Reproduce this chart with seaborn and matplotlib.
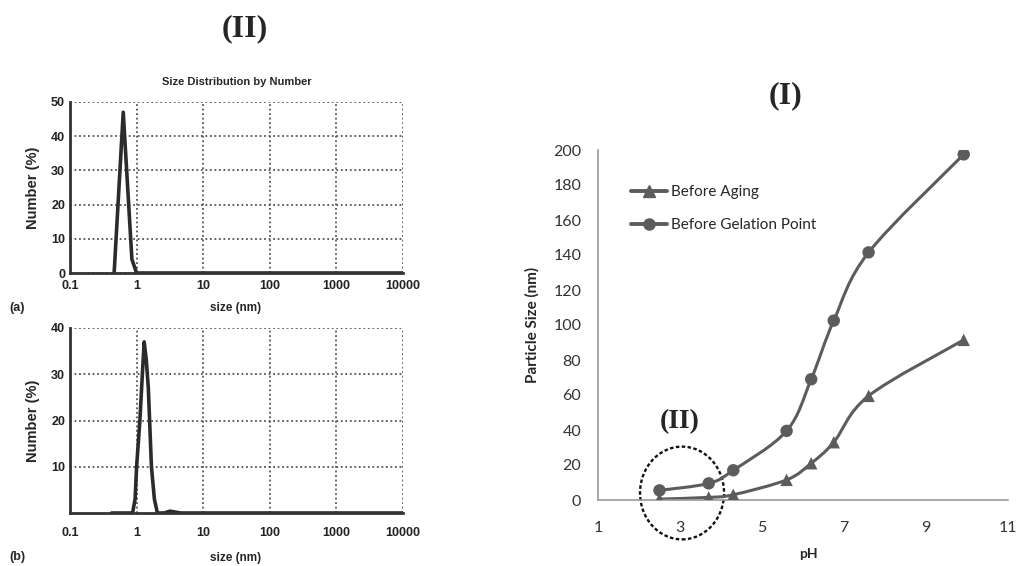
import numpy as np
import pandas as pd
import matplotlib
matplotlib.use('Agg')
import matplotlib.pyplot as plt
import seaborn as sns
from matplotlib.path import Path
from matplotlib.patches import PathPatch, Ellipse
from matplotlib.lines import Line2D
from matplotlib.ticker import FixedLocator, LogLocator, NullFormatter

# (a) size distribution by number
size_a = [0.46, 0.63, 0.85, 1.0, 10000]
number_a = [0, 47, 4, 0, 0]

# (b) size distribution by number
size_b = [0.42, 0.87, 0.95, 1.0, 1.12, 1.22, 1.3, 1.4, 1.5, 1.67, 1.85, 2.05, 2.6, 3.16, 3.8, 4.6, 10000]
number_b = [0, 0, 3, 10, 20, 30, 37, 33, 27, 10, 3, 0, 0, 0.4, 0.2, 0, 0]

# (I) particle size vs pH
ph = [2.5, 3.7, 4.3, 5.6, 6.2, 6.75, 7.6, 9.92]
size_aging = [0.5, 1.5, 3, 11.5, 21, 33, 59.5, 91.5]
size_gelation = [5.5, 9.5, 17, 39.5, 69, 102.5, 141.5, 197.5]

log_ticks = [0.1, 1, 10, 100, 1000, 10000]
log_labels = ['0.1', '1', '10', '100', '1000', '10000']

sns.set_style('white')
plt.rcParams['font.family'] = ['Liberation Sans', 'DejaVu Sans']

fig = plt.figure(figsize=(10.16, 5.66), dpi=100)
W, H = 1016, 566
serif = ['Liberation Serif', 'DejaVu Serif']
calib = ['Lato', 'DejaVu Sans']


def px_axes(left, top, right, bottom):
    return fig.add_axes([left / W, 1 - bottom / H, (right - left) / W, (bottom - top) / H])


def dls_panel(ax, x, y, ymax, ylabels, pad):
    sns.lineplot(x=x, y=y, ax=ax, sort=False, color='#2b2b2b', lw=2.6, estimator=None)
    ax.set_xscale('log')
    ax.set_xlim(0.1, 10000)
    ax.set_ylim(0, ymax)
    ax.xaxis.set_major_locator(FixedLocator(log_ticks))
    ax.set_xticklabels(log_labels)
    ax.xaxis.set_minor_locator(LogLocator(base=10, subs=np.arange(2, 10)))
    ax.xaxis.set_minor_formatter(NullFormatter())
    ax.set_yticks(ylabels)
    ax.yaxis.set_minor_locator(FixedLocator(np.arange(0, ymax + 1, 5)))
    ax.grid(True, which='major', color='#555555', ls=(0, (1, 1.5)), lw=1.3)
    for s in ['top', 'right']:
        ax.spines[s].set_visible(False)
    for s in ['left', 'bottom']:
        ax.spines[s].set_color('#333333')
        ax.spines[s].set_linewidth(2)
    ax.tick_params(axis='both', which='both', direction='in', color='#333333')
    ax.tick_params(axis='both', which='major', length=4, width=1.5, labelsize=9)
    ax.tick_params(axis='x', which='major', pad=pad)
    ax.tick_params(axis='both', which='minor', length=3, width=1.2)
    for t in ax.get_xticklabels() + ax.get_yticklabels():
        t.set_fontweight('bold')
        t.set_color('#222222')
    ax.set_ylabel('Number (%)', fontsize=10.5, fontweight='bold', labelpad=8)
    ax.set_xlabel('')


# top panel (a)
ax_a = px_axes(70, 102, 403, 273)
dls_panel(ax_a, size_a, number_a, 50, [0, 10, 20, 30, 40, 50], 5)
ax_a.set_title('Size Distribution by Number', fontsize=8, fontweight='bold', pad=12)

# bottom panel (b)
ax_b = px_axes(70, 328, 403, 513)
dls_panel(ax_b, size_b, number_b, 40, [10, 20, 30, 40], 10)

fig.text(236 / W, 1 - 308 / H, 'size (nm)', ha='center', va='center', fontsize=8.5, fontweight='bold')
fig.text(236 / W, 1 - 558 / H, 'size (nm)', ha='center', va='center', fontsize=8.5, fontweight='bold')
fig.text(17 / W, 1 - 308 / H, '(a)', ha='center', va='center', fontsize=9, fontweight='bold')
fig.text(17 / W, 1 - 557 / H, '(b)', ha='center', va='center', fontsize=9, fontweight='bold')
fig.text(245 / W, 1 - 29 / H, '(II)', ha='center', va='center', fontsize=23,
         fontweight='bold', family=serif)

# right panel (I)
ax_r = px_axes(598, 150, 1008, 500)
line_col = '#5c5c5c'


def smooth_path(x, y):
    n = len(x)
    verts = [(x[0], y[0])]
    codes = [Path.MOVETO]
    for i in range(n - 1):
        p0 = max(i - 1, 0)
        p3 = min(i + 2, n - 1)
        c1 = (x[i] + (x[i + 1] - x[p0]) / 6, y[i] + (y[i + 1] - y[p0]) / 6)
        c2 = (x[i + 1] - (x[p3] - x[i]) / 6, y[i + 1] - (y[p3] - y[i]) / 6)
        verts += [c1, c2, (x[i + 1], y[i + 1])]
        codes += [Path.CURVE4] * 3
    return Path(verts, codes)


df_r = pd.DataFrame({'pH': ph * 2,
                     'size': size_aging + size_gelation,
                     'series': ['Before Aging'] * len(ph) + ['Before Gelation Point'] * len(ph)})

for ys in [size_aging, size_gelation]:
    ax_r.add_patch(PathPatch(smooth_path(ph, ys), fill=False, color=line_col, lw=2.2, zorder=2))

sns.scatterplot(data=df_r, x='pH', y='size', style='series',
                markers={'Before Aging': '^', 'Before Gelation Point': 'o'},
                color=line_col, s=80, edgecolor=line_col, linewidth=0, ax=ax_r, legend=False, zorder=3)

ax_r.set_xlim(1, 11)
ax_r.set_ylim(0, 200)
ax_r.set_xticks([1, 3, 5, 7, 9, 11])
ax_r.set_yticks(range(0, 201, 20))
for s in ['top', 'right']:
    ax_r.spines[s].set_visible(False)
for s in ['left', 'bottom']:
    ax_r.spines[s].set_color('#9a9a9a')
    ax_r.spines[s].set_linewidth(1.2)
ax_r.tick_params(axis='both', length=0, labelsize=11.5, colors='#333333')
ax_r.tick_params(axis='x', pad=15)
ax_r.tick_params(axis='y', pad=12)
for t in ax_r.get_xticklabels() + ax_r.get_yticklabels():
    t.set_family(calib)
ax_r.set_ylabel('Particle Size (nm)', fontsize=11, fontweight='bold', family=calib, labelpad=10)
ax_r.set_xlabel('')
fig.text(808 / W, 1 - 554 / H, 'pH', ha='center', va='center', fontsize=10,
         fontweight='bold', family=calib)

handles = [Line2D([], [], color=line_col, lw=2.8, marker='^', markersize=8),
           Line2D([], [], color=line_col, lw=2.8, marker='o', markersize=8)]
ax_r.legend(handles, ['Before Aging', 'Before Gelation Point'], loc='upper left',
            bbox_to_anchor=(0.08, 0.9), frameon=False, borderpad=0, borderaxespad=0,
            handlelength=2.4, handletextpad=0.2, labelspacing=1.25,
            prop={'family': calib, 'size': 11})

ax_r.add_patch(Ellipse((3.05, 4), 2.05, 53, fill=False, ls=(0, (1.5, 1)), lw=1.7, color='#111111', clip_on=False))
ax_r.text(3.0, 45, '(II)', ha='center', va='center', fontsize=20, fontweight='bold', family=serif)

fig.text(785 / W, 1 - 96 / H, '(I)', ha='center', va='center', fontsize=23,
         fontweight='bold', family=serif)

fig.savefig('out.png', dpi=100)
